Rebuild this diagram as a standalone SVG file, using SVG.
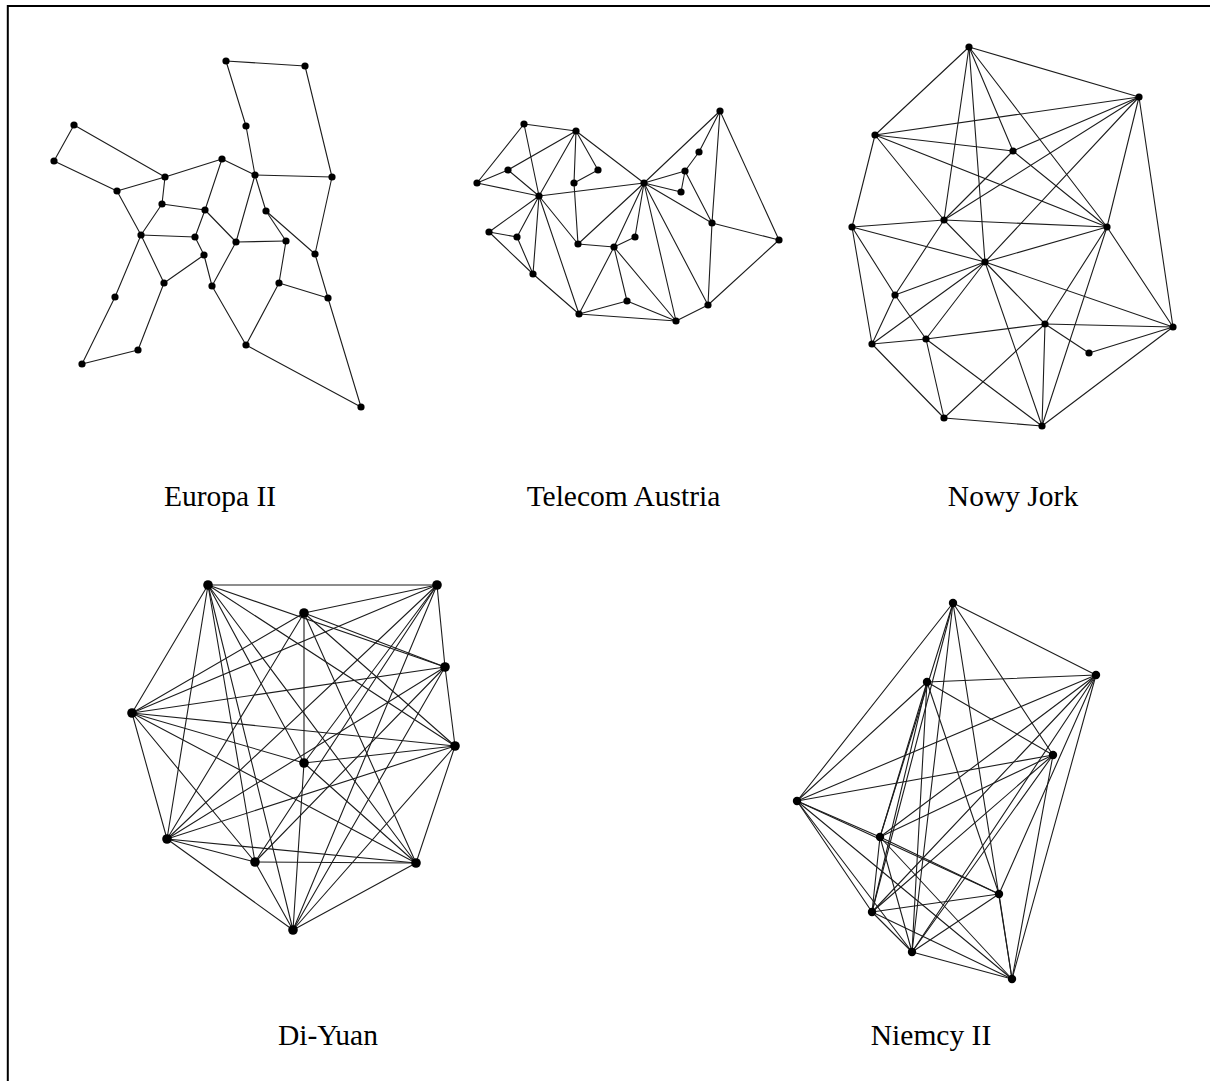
<svg xmlns="http://www.w3.org/2000/svg" width="1210" height="1081" viewBox="0 0 1210 1081">
  <style>
    .edges line { stroke: #1c1c1c; stroke-width: 1.1; stroke-linecap: round; }
    .n circle { fill: #000; }
    .s circle { r: 3.6px; }
    .m circle { r: 4.8px; }
    .label { font-family: "Liberation Serif", "Times New Roman", serif; font-size: 29.5px; fill: #000; text-anchor: middle; }
    .frame { fill: none; stroke: #000; stroke-width: 2; }
  </style>
  <rect width="1210" height="1081" fill="#fff"/>
  <path class="frame" d="M7.8,1081 V6 H1210"/>

  <!-- Europa II -->
  <g id="europa">
    <g class="edges" id="europa-links">
      <line x1="226" y1="61" x2="305" y2="66"/>
      <line x1="226" y1="61" x2="246" y2="126"/>
      <line x1="246" y1="126" x2="255" y2="175"/>
      <line x1="305" y1="66" x2="332" y2="177"/>
      <line x1="255" y1="175" x2="332" y2="177"/>
      <line x1="74" y1="125" x2="54" y2="161"/>
      <line x1="74" y1="125" x2="165" y2="177"/>
      <line x1="54" y1="161" x2="117" y2="191"/>
      <line x1="117" y1="191" x2="165" y2="177"/>
      <line x1="165" y1="177" x2="222" y2="159"/>
      <line x1="165" y1="177" x2="162" y2="204"/>
      <line x1="222" y1="159" x2="255" y2="175"/>
      <line x1="222" y1="159" x2="205" y2="210"/>
      <line x1="255" y1="175" x2="236" y2="242"/>
      <line x1="255" y1="175" x2="266" y2="211"/>
      <line x1="162" y1="204" x2="205" y2="210"/>
      <line x1="162" y1="204" x2="141" y2="235"/>
      <line x1="117" y1="191" x2="141" y2="235"/>
      <line x1="141" y1="235" x2="195" y2="237"/>
      <line x1="141" y1="235" x2="164" y2="283"/>
      <line x1="141" y1="235" x2="115" y2="297"/>
      <line x1="115" y1="297" x2="82" y2="364"/>
      <line x1="82" y1="364" x2="138" y2="350"/>
      <line x1="138" y1="350" x2="164" y2="283"/>
      <line x1="164" y1="283" x2="204" y2="255"/>
      <line x1="205" y1="210" x2="195" y2="237"/>
      <line x1="205" y1="210" x2="236" y2="242"/>
      <line x1="195" y1="237" x2="204" y2="255"/>
      <line x1="204" y1="255" x2="212" y2="286"/>
      <line x1="236" y1="242" x2="212" y2="286"/>
      <line x1="236" y1="242" x2="286" y2="241"/>
      <line x1="266" y1="211" x2="286" y2="241"/>
      <line x1="266" y1="211" x2="315" y2="254"/>
      <line x1="332" y1="177" x2="315" y2="254"/>
      <line x1="286" y1="241" x2="279" y2="283"/>
      <line x1="279" y1="283" x2="328" y2="298"/>
      <line x1="315" y1="254" x2="328" y2="298"/>
      <line x1="328" y1="298" x2="361" y2="407"/>
      <line x1="246" y1="345" x2="361" y2="407"/>
      <line x1="279" y1="283" x2="246" y2="345"/>
      <line x1="212" y1="286" x2="246" y2="345"/>
    </g>
    <g class="n s">
      <g id="eu-1"><circle cx="226" cy="61"/></g>
      <g id="eu-2"><circle cx="305" cy="66"/></g>
      <g id="eu-3"><circle cx="246" cy="126"/></g>
      <g id="eu-4"><circle cx="74" cy="125"/></g>
      <g id="eu-5"><circle cx="54" cy="161"/></g>
      <g id="eu-6"><circle cx="222" cy="159"/></g>
      <g id="eu-7"><circle cx="165" cy="177"/></g>
      <g id="eu-8"><circle cx="255" cy="175"/></g>
      <g id="eu-9"><circle cx="332" cy="177"/></g>
      <g id="eu-10"><circle cx="117" cy="191"/></g>
      <g id="eu-11"><circle cx="162" cy="204"/></g>
      <g id="eu-12"><circle cx="205" cy="210"/></g>
      <g id="eu-13"><circle cx="266" cy="211"/></g>
      <g id="eu-14"><circle cx="141" cy="235"/></g>
      <g id="eu-15"><circle cx="195" cy="237"/></g>
      <g id="eu-16"><circle cx="236" cy="242"/></g>
      <g id="eu-17"><circle cx="286" cy="241"/></g>
      <g id="eu-18"><circle cx="315" cy="254"/></g>
      <g id="eu-19"><circle cx="204" cy="255"/></g>
      <g id="eu-20"><circle cx="164" cy="283"/></g>
      <g id="eu-21"><circle cx="212" cy="286"/></g>
      <g id="eu-22"><circle cx="279" cy="283"/></g>
      <g id="eu-23"><circle cx="115" cy="297"/></g>
      <g id="eu-24"><circle cx="328" cy="298"/></g>
      <g id="eu-25"><circle cx="138" cy="350"/></g>
      <g id="eu-26"><circle cx="82" cy="364"/></g>
      <g id="eu-27"><circle cx="246" cy="345"/></g>
      <g id="eu-28"><circle cx="361" cy="407"/></g>
    </g>
    <text class="label" x="220" y="506">Europa II</text>
  </g>

  <!-- Telecom Austria -->
  <g id="telecom">
    <g class="edges" id="telecom-links">
      <line x1="477" y1="183" x2="524" y2="124"/>
      <line x1="477" y1="183" x2="508" y2="170"/>
      <line x1="477" y1="183" x2="539" y2="196"/>
      <line x1="524" y1="124" x2="576" y2="131"/>
      <line x1="524" y1="124" x2="539" y2="196"/>
      <line x1="508" y1="170" x2="576" y2="131"/>
      <line x1="508" y1="170" x2="539" y2="196"/>
      <line x1="576" y1="131" x2="539" y2="196"/>
      <line x1="576" y1="131" x2="574" y2="183"/>
      <line x1="576" y1="131" x2="598" y2="170"/>
      <line x1="598" y1="170" x2="574" y2="183"/>
      <line x1="576" y1="131" x2="644" y2="183"/>
      <line x1="539" y1="196" x2="644" y2="183"/>
      <line x1="574" y1="183" x2="578" y2="244"/>
      <line x1="578" y1="244" x2="614" y2="247"/>
      <line x1="614" y1="247" x2="635" y2="237"/>
      <line x1="644" y1="183" x2="635" y2="237"/>
      <line x1="644" y1="183" x2="578" y2="244"/>
      <line x1="644" y1="183" x2="614" y2="247"/>
      <line x1="539" y1="196" x2="489" y2="232"/>
      <line x1="539" y1="196" x2="517" y2="237"/>
      <line x1="539" y1="196" x2="533" y2="274"/>
      <line x1="539" y1="196" x2="579" y2="314"/>
      <line x1="539" y1="196" x2="578" y2="244"/>
      <line x1="489" y1="232" x2="517" y2="237"/>
      <line x1="489" y1="232" x2="533" y2="274"/>
      <line x1="517" y1="237" x2="533" y2="274"/>
      <line x1="533" y1="274" x2="579" y2="314"/>
      <line x1="579" y1="314" x2="614" y2="247"/>
      <line x1="579" y1="314" x2="627" y2="301"/>
      <line x1="614" y1="247" x2="627" y2="301"/>
      <line x1="614" y1="247" x2="676" y2="321"/>
      <line x1="579" y1="314" x2="676" y2="321"/>
      <line x1="627" y1="301" x2="676" y2="321"/>
      <line x1="644" y1="183" x2="676" y2="321"/>
      <line x1="644" y1="183" x2="708" y2="305"/>
      <line x1="676" y1="321" x2="708" y2="305"/>
      <line x1="708" y1="305" x2="712" y2="223"/>
      <line x1="708" y1="305" x2="779" y2="240"/>
      <line x1="712" y1="223" x2="779" y2="240"/>
      <line x1="644" y1="183" x2="712" y2="223"/>
      <line x1="644" y1="183" x2="681" y2="192"/>
      <line x1="685" y1="171" x2="681" y2="192"/>
      <line x1="685" y1="171" x2="712" y2="223"/>
      <line x1="644" y1="183" x2="685" y2="171"/>
      <line x1="685" y1="171" x2="699" y2="152"/>
      <line x1="699" y1="152" x2="720" y2="111"/>
      <line x1="720" y1="111" x2="644" y2="183"/>
      <line x1="720" y1="111" x2="712" y2="223"/>
      <line x1="720" y1="111" x2="779" y2="240"/>
    </g>
    <g class="n s">
      <g id="ta-1"><circle cx="524" cy="124"/></g>
      <g id="ta-2"><circle cx="576" cy="131"/></g>
      <g id="ta-3"><circle cx="720" cy="111"/></g>
      <g id="ta-4"><circle cx="699" cy="152"/></g>
      <g id="ta-5"><circle cx="508" cy="170"/></g>
      <g id="ta-6"><circle cx="598" cy="170"/></g>
      <g id="ta-7"><circle cx="685" cy="171"/></g>
      <g id="ta-8"><circle cx="477" cy="183"/></g>
      <g id="ta-9"><circle cx="574" cy="183"/></g>
      <g id="ta-10"><circle cx="644" cy="183"/></g>
      <g id="ta-11"><circle cx="681" cy="192"/></g>
      <g id="ta-12"><circle cx="539" cy="196"/></g>
      <g id="ta-13"><circle cx="712" cy="223"/></g>
      <g id="ta-14"><circle cx="779" cy="240"/></g>
      <g id="ta-15"><circle cx="489" cy="232"/></g>
      <g id="ta-16"><circle cx="517" cy="237"/></g>
      <g id="ta-17"><circle cx="635" cy="237"/></g>
      <g id="ta-18"><circle cx="578" cy="244"/></g>
      <g id="ta-19"><circle cx="614" cy="247"/></g>
      <g id="ta-20"><circle cx="533" cy="274"/></g>
      <g id="ta-21"><circle cx="627" cy="301"/></g>
      <g id="ta-22"><circle cx="708" cy="305"/></g>
      <g id="ta-23"><circle cx="579" cy="314"/></g>
      <g id="ta-24"><circle cx="676" cy="321"/></g>
    </g>
    <text class="label" x="623.5" y="506">Telecom Austria</text>
  </g>

  <!-- Nowy Jork -->
  <g id="nowy-jork">
    <g class="edges" id="nowy-jork-links">
      <line x1="969" y1="47" x2="1139" y2="97"/>
      <line x1="969" y1="47" x2="875" y2="135"/>
      <line x1="969" y1="47" x2="944" y2="220"/>
      <line x1="969" y1="47" x2="985" y2="262"/>
      <line x1="969" y1="47" x2="1013" y2="151"/>
      <line x1="969" y1="47" x2="1107" y2="227"/>
      <line x1="1139" y1="97" x2="875" y2="135"/>
      <line x1="1139" y1="97" x2="1013" y2="151"/>
      <line x1="1139" y1="97" x2="944" y2="220"/>
      <line x1="1139" y1="97" x2="985" y2="262"/>
      <line x1="1139" y1="97" x2="1107" y2="227"/>
      <line x1="1139" y1="97" x2="1173" y2="327"/>
      <line x1="875" y1="135" x2="1013" y2="151"/>
      <line x1="875" y1="135" x2="1107" y2="227"/>
      <line x1="875" y1="135" x2="944" y2="220"/>
      <line x1="875" y1="135" x2="852" y2="227"/>
      <line x1="1013" y1="151" x2="944" y2="220"/>
      <line x1="1013" y1="151" x2="1107" y2="227"/>
      <line x1="852" y1="227" x2="944" y2="220"/>
      <line x1="852" y1="227" x2="985" y2="262"/>
      <line x1="852" y1="227" x2="895" y2="295"/>
      <line x1="852" y1="227" x2="872" y2="344"/>
      <line x1="944" y1="220" x2="1107" y2="227"/>
      <line x1="944" y1="220" x2="895" y2="295"/>
      <line x1="944" y1="220" x2="985" y2="262"/>
      <line x1="1107" y1="227" x2="985" y2="262"/>
      <line x1="1107" y1="227" x2="1173" y2="327"/>
      <line x1="1107" y1="227" x2="1042" y2="426"/>
      <line x1="1107" y1="227" x2="1045" y2="324"/>
      <line x1="985" y1="262" x2="895" y2="295"/>
      <line x1="985" y1="262" x2="872" y2="344"/>
      <line x1="985" y1="262" x2="926" y2="339"/>
      <line x1="985" y1="262" x2="1042" y2="426"/>
      <line x1="985" y1="262" x2="1045" y2="324"/>
      <line x1="985" y1="262" x2="1173" y2="327"/>
      <line x1="895" y1="295" x2="926" y2="339"/>
      <line x1="895" y1="295" x2="872" y2="344"/>
      <line x1="872" y1="344" x2="926" y2="339"/>
      <line x1="872" y1="344" x2="944" y2="418"/>
      <line x1="926" y1="339" x2="1045" y2="324"/>
      <line x1="926" y1="339" x2="944" y2="418"/>
      <line x1="926" y1="339" x2="1042" y2="426"/>
      <line x1="1045" y1="324" x2="1042" y2="426"/>
      <line x1="1045" y1="324" x2="944" y2="418"/>
      <line x1="1045" y1="324" x2="1089" y2="353"/>
      <line x1="1045" y1="324" x2="1173" y2="327"/>
      <line x1="1089" y1="353" x2="1173" y2="327"/>
      <line x1="1042" y1="426" x2="1173" y2="327"/>
      <line x1="944" y1="418" x2="1042" y2="426"/>
    </g>
    <g class="n s">
      <g id="nj-1"><circle cx="969" cy="47"/></g>
      <g id="nj-2"><circle cx="1139" cy="97"/></g>
      <g id="nj-3"><circle cx="875" cy="135"/></g>
      <g id="nj-4"><circle cx="1013" cy="151"/></g>
      <g id="nj-5"><circle cx="852" cy="227"/></g>
      <g id="nj-6"><circle cx="944" cy="220"/></g>
      <g id="nj-7"><circle cx="1107" cy="227"/></g>
      <g id="nj-8"><circle cx="985" cy="262"/></g>
      <g id="nj-9"><circle cx="895" cy="295"/></g>
      <g id="nj-10"><circle cx="1173" cy="327"/></g>
      <g id="nj-11"><circle cx="1045" cy="324"/></g>
      <g id="nj-12"><circle cx="872" cy="344"/></g>
      <g id="nj-13"><circle cx="926" cy="339"/></g>
      <g id="nj-14"><circle cx="1089" cy="353"/></g>
      <g id="nj-15"><circle cx="944" cy="418"/></g>
      <g id="nj-16"><circle cx="1042" cy="426"/></g>
    </g>
    <text class="label" x="1013" y="506">Nowy Jork</text>
  </g>

  <!-- Di-Yuan -->
  <g id="di-yuan">
    <g class="edges" id="di-yuan-links">
      <line x1="208" y1="585" x2="437" y2="585"/>
      <line x1="208" y1="585" x2="445" y2="667"/>
      <line x1="208" y1="585" x2="132" y2="713"/>
      <line x1="208" y1="585" x2="455" y2="746"/>
      <line x1="208" y1="585" x2="304" y2="763"/>
      <line x1="208" y1="585" x2="167" y2="839"/>
      <line x1="208" y1="585" x2="255" y2="862"/>
      <line x1="208" y1="585" x2="416" y2="863"/>
      <line x1="208" y1="585" x2="293" y2="930"/>
      <line x1="437" y1="585" x2="304" y2="613"/>
      <line x1="437" y1="585" x2="445" y2="667"/>
      <line x1="437" y1="585" x2="132" y2="713"/>
      <line x1="437" y1="585" x2="167" y2="839"/>
      <line x1="437" y1="585" x2="255" y2="862"/>
      <line x1="437" y1="585" x2="293" y2="930"/>
      <line x1="437" y1="585" x2="304" y2="763"/>
      <line x1="304" y1="613" x2="445" y2="667"/>
      <line x1="304" y1="613" x2="132" y2="713"/>
      <line x1="304" y1="613" x2="455" y2="746"/>
      <line x1="304" y1="613" x2="304" y2="763"/>
      <line x1="304" y1="613" x2="416" y2="863"/>
      <line x1="304" y1="613" x2="167" y2="839"/>
      <line x1="445" y1="667" x2="132" y2="713"/>
      <line x1="445" y1="667" x2="455" y2="746"/>
      <line x1="445" y1="667" x2="167" y2="839"/>
      <line x1="445" y1="667" x2="255" y2="862"/>
      <line x1="445" y1="667" x2="293" y2="930"/>
      <line x1="132" y1="713" x2="455" y2="746"/>
      <line x1="132" y1="713" x2="304" y2="763"/>
      <line x1="132" y1="713" x2="167" y2="839"/>
      <line x1="132" y1="713" x2="255" y2="862"/>
      <line x1="132" y1="713" x2="416" y2="863"/>
      <line x1="455" y1="746" x2="304" y2="763"/>
      <line x1="455" y1="746" x2="167" y2="839"/>
      <line x1="455" y1="746" x2="416" y2="863"/>
      <line x1="455" y1="746" x2="293" y2="930"/>
      <line x1="304" y1="763" x2="416" y2="863"/>
      <line x1="304" y1="763" x2="293" y2="930"/>
      <line x1="167" y1="839" x2="255" y2="862"/>
      <line x1="167" y1="839" x2="416" y2="863"/>
      <line x1="167" y1="839" x2="293" y2="930"/>
      <line x1="255" y1="862" x2="416" y2="863"/>
      <line x1="255" y1="862" x2="293" y2="930"/>
      <line x1="416" y1="863" x2="293" y2="930"/>
    </g>
    <g class="n m">
      <g id="dy-1"><circle cx="208" cy="585"/></g>
      <g id="dy-2"><circle cx="437" cy="585"/></g>
      <g id="dy-3"><circle cx="304" cy="613"/></g>
      <g id="dy-4"><circle cx="445" cy="667"/></g>
      <g id="dy-5"><circle cx="132" cy="713"/></g>
      <g id="dy-6"><circle cx="455" cy="746"/></g>
      <g id="dy-7"><circle cx="304" cy="763"/></g>
      <g id="dy-8"><circle cx="167" cy="839"/></g>
      <g id="dy-9"><circle cx="255" cy="862"/></g>
      <g id="dy-10"><circle cx="416" cy="863"/></g>
      <g id="dy-11"><circle cx="293" cy="930"/></g>
    </g>
    <text class="label" x="328" y="1045">Di-Yuan</text>
  </g>

  <!-- Niemcy II -->
  <g id="niemcy">
    <g class="edges" id="niemcy-links">
      <line x1="953" y1="603" x2="1096" y2="675"/>
      <line x1="953" y1="603" x2="1053" y2="755"/>
      <line x1="953" y1="603" x2="797" y2="801"/>
      <line x1="953" y1="603" x2="880" y2="837"/>
      <line x1="953" y1="603" x2="872" y2="912"/>
      <line x1="953" y1="603" x2="912" y2="952"/>
      <line x1="953" y1="603" x2="1012" y2="979"/>
      <line x1="1096" y1="675" x2="927" y2="682"/>
      <line x1="1096" y1="675" x2="797" y2="801"/>
      <line x1="1096" y1="675" x2="880" y2="837"/>
      <line x1="1096" y1="675" x2="872" y2="912"/>
      <line x1="1096" y1="675" x2="912" y2="952"/>
      <line x1="1096" y1="675" x2="999" y2="894"/>
      <line x1="1096" y1="675" x2="1012" y2="979"/>
      <line x1="927" y1="682" x2="1053" y2="755"/>
      <line x1="927" y1="682" x2="797" y2="801"/>
      <line x1="927" y1="682" x2="880" y2="837"/>
      <line x1="927" y1="682" x2="872" y2="912"/>
      <line x1="927" y1="682" x2="912" y2="952"/>
      <line x1="927" y1="682" x2="999" y2="894"/>
      <line x1="1053" y1="755" x2="797" y2="801"/>
      <line x1="1053" y1="755" x2="880" y2="837"/>
      <line x1="1053" y1="755" x2="872" y2="912"/>
      <line x1="1053" y1="755" x2="912" y2="952"/>
      <line x1="1053" y1="755" x2="1012" y2="979"/>
      <line x1="797" y1="801" x2="880" y2="837"/>
      <line x1="797" y1="801" x2="999" y2="894"/>
      <line x1="797" y1="801" x2="872" y2="912"/>
      <line x1="797" y1="801" x2="912" y2="952"/>
      <line x1="797" y1="801" x2="1012" y2="979"/>
      <line x1="880" y1="837" x2="999" y2="894"/>
      <line x1="880" y1="837" x2="872" y2="912"/>
      <line x1="880" y1="837" x2="912" y2="952"/>
      <line x1="880" y1="837" x2="1012" y2="979"/>
      <line x1="999" y1="894" x2="872" y2="912"/>
      <line x1="999" y1="894" x2="912" y2="952"/>
      <line x1="999" y1="894" x2="1012" y2="979"/>
      <line x1="872" y1="912" x2="912" y2="952"/>
      <line x1="872" y1="912" x2="1012" y2="979"/>
      <line x1="912" y1="952" x2="1012" y2="979"/>
    </g>
    <g class="n">
      <g id="de-1"><circle cx="953" cy="603" r="4.2"/></g>
      <g id="de-2"><circle cx="1096" cy="675" r="4.2"/></g>
      <g id="de-3"><circle cx="927" cy="682" r="4.2"/></g>
      <g id="de-4"><circle cx="1053" cy="755" r="4.2"/></g>
      <g id="de-5"><circle cx="797" cy="801" r="4.2"/></g>
      <g id="de-6"><circle cx="880" cy="837" r="4.2"/></g>
      <g id="de-7"><circle cx="999" cy="894" r="4.2"/></g>
      <g id="de-8"><circle cx="872" cy="912" r="4.2"/></g>
      <g id="de-9"><circle cx="912" cy="952" r="4.2"/></g>
      <g id="de-10"><circle cx="1012" cy="979" r="4.2"/></g>
    </g>
    <text class="label" x="931" y="1045">Niemcy II</text>
  </g>
</svg>
